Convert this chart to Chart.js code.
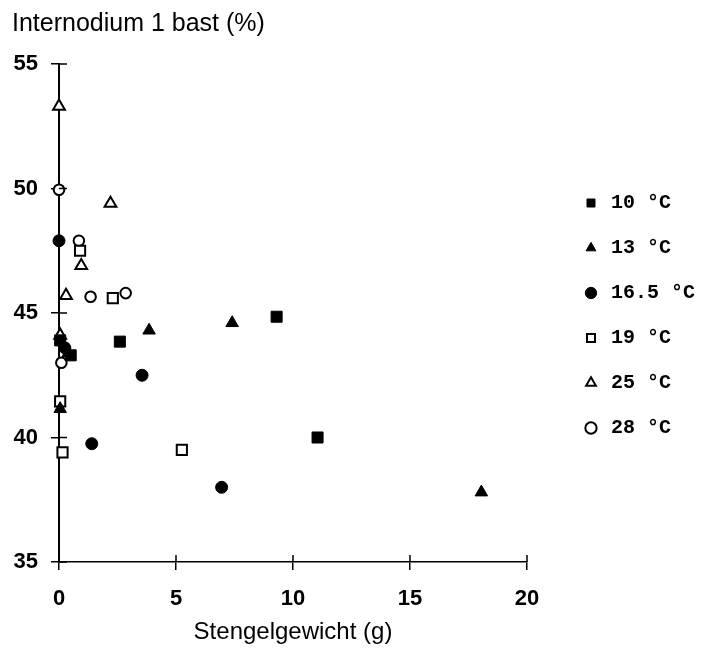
<!DOCTYPE html>
<html>
<head>
<meta charset="utf-8">
<script src="https://cdn.jsdelivr.net/npm/chart.js@4"></script>
<style>
  html, body { margin: 0; padding: 0; background: #fff; }
  #wrap { width: 703px; height: 657px; }
</style>
</head>
<body>
<div id="wrap"><canvas id="myChart" width="703" height="657"></canvas></div>
<script>
// Stengelgewicht (g) and bast % of internode 1, per growing temperature
const w10 = [0.05, 0.5, 2.6, 9.3, 11.05];
const b10 = [43.9, 43.3, 43.85, 44.85, 40.0];

const w13 = [0.05, 0.4, 3.85, 7.4, 18.05];
const b13 = [41.15, 43.4, 44.3, 44.6, 37.8];

const w165 = [0.0, 0.25, 1.4, 3.55, 6.95];
const b165 = [47.9, 43.6, 39.75, 42.5, 38.0];

const w19 = [0.9, 2.3, 0.05, 0.15, 5.25];
const b19 = [47.5, 45.6, 41.45, 39.4, 39.5];

const w25 = [0.0, 2.2, 0.95, 0.3, 0.05];
const b25 = [53.3, 49.4, 46.9, 45.7, 44.1];

const w28 = [0.0, 0.85, 1.35, 2.85, 0.1];
const b28 = [49.95, 47.9, 45.65, 45.8, 43.0];

const labels = ['10 °C', '13 °C', '16.5 °C', '19 °C', '25 °C', '28 °C'];
const xTicks = [0, 5, 10, 15, 20];
const yTicks = [35, 40, 45, 50, 55];

const toPoints = (xs, ys) => xs.map((x, i) => ({ x: x, y: ys[i] }));

const series = [
    { data: toPoints(w10, b10), style: 'rect', fill: '#000', r: 7.8 },
    { data: toPoints(w13, b13), style: 'triangle', fill: '#000', r: 7.2 },
    { data: toPoints(w165, b165), style: 'circle', fill: '#000', r: 6 },
    { data: toPoints(w19, b19), style: 'rect', fill: '#fff', r: 7.2 },
    { data: toPoints(w25, b25), style: 'triangle', fill: '#fff', r: 6.8 },
    { data: toPoints(w28, b28), style: 'circle', fill: '#fff', r: 5.3 }
];

// short tick marks running into the plot, so each tick crosses its axis
const innerTicks = {
    id: 'innerTicks',
    afterDraw(chart) {
        const ctx = chart.ctx;
        const xs = chart.scales.x;
        const ys = chart.scales.y;
        ctx.save();
        ctx.strokeStyle = '#000';
        ctx.lineWidth = 1.5;
        ctx.beginPath();
        xTicks.forEach(v => {
            const px = xs.getPixelForValue(v);
            ctx.moveTo(px, ys.bottom);
            ctx.lineTo(px, ys.bottom - 7);
        });
        yTicks.forEach(v => {
            const py = ys.getPixelForValue(v);
            ctx.moveTo(xs.left, py);
            ctx.lineTo(xs.left + 8, py);
        });
        ctx.stroke();
        ctx.restore();
    }
};

// move the legend column away from the plot and up a little
const legendShift = {
    id: 'legendShift',
    afterLayout(chart) {
        const lg = chart.legend;
        lg.left += 29;
        lg.right += 29;
        lg.top -= 13;
        lg.bottom -= 13;
    }
};

const ctx = document.getElementById('myChart');

new Chart(ctx, {
    type: 'scatter',
    data: {
        datasets: series.map((s, i) => ({
            label: labels[i],
            data: s.data,
            pointStyle: s.style,
            pointRadius: s.r,
            pointHoverRadius: s.r,
            pointBackgroundColor: s.fill,
            pointBorderColor: '#000',
            pointBorderWidth: s.fill === '#fff' ? 2 : 1,
            backgroundColor: s.fill,
            borderColor: '#000',
            clip: false
        }))
    },
    options: {
        responsive: false,
        animation: false,
        layout: { padding: { left: 12, right: 27, top: 0, bottom: 0 } },
        plugins: {
            title: {
                display: true,
                text: 'Internodium 1 bast (%)',
                align: 'start',
                color: '#000',
                font: { family: 'Liberation Sans', size: 25, weight: 'normal' },
                padding: { top: 9, bottom: 25 }
            },
            legend: {
                position: 'right',
                labels: {
                    usePointStyle: true,
                    boxWidth: 20,
                    boxHeight: 8,
                    padding: 25,
                    color: '#000',
                    font: { family: 'Liberation Mono', size: 20, weight: 'bold' }
                }
            },
            tooltip: { enabled: false }
        },
        scales: {
            x: {
                type: 'linear',
                min: 0,
                max: 20,
                afterBuildTicks: s => { s.ticks = xTicks.map(v => ({ value: v })); },
                afterFit: s => { s.height = 95; },
                border: { display: true, color: '#000', width: 1.5 },
                grid: { drawOnChartArea: false, drawTicks: true, tickLength: 8, color: '#000', lineWidth: 1.5 },
                ticks: { color: '#000', padding: 16, font: { family: 'Liberation Sans', size: 22, weight: 'bold' } },
                title: {
                    display: true,
                    text: 'Stengelgewicht (g)',
                    color: '#000',
                    font: { family: 'Liberation Sans', size: 24 },
                    padding: { top: 0, bottom: 10 }
                }
            },
            y: {
                type: 'linear',
                min: 35,
                max: 55,
                afterBuildTicks: s => { s.ticks = yTicks.map(v => ({ value: v })); },
                afterFit: s => { s.width = 47; },
                border: { display: true, color: '#000', width: 2 },
                grid: { drawOnChartArea: false, drawTicks: true, tickLength: 8, color: '#000', lineWidth: 1.5 },
                ticks: { color: '#000', padding: 13, font: { family: 'Liberation Sans', size: 22, weight: 'bold' } }
            }
        }
    },
    plugins: [innerTicks, legendShift]
});
</script>
</body>
</html>
